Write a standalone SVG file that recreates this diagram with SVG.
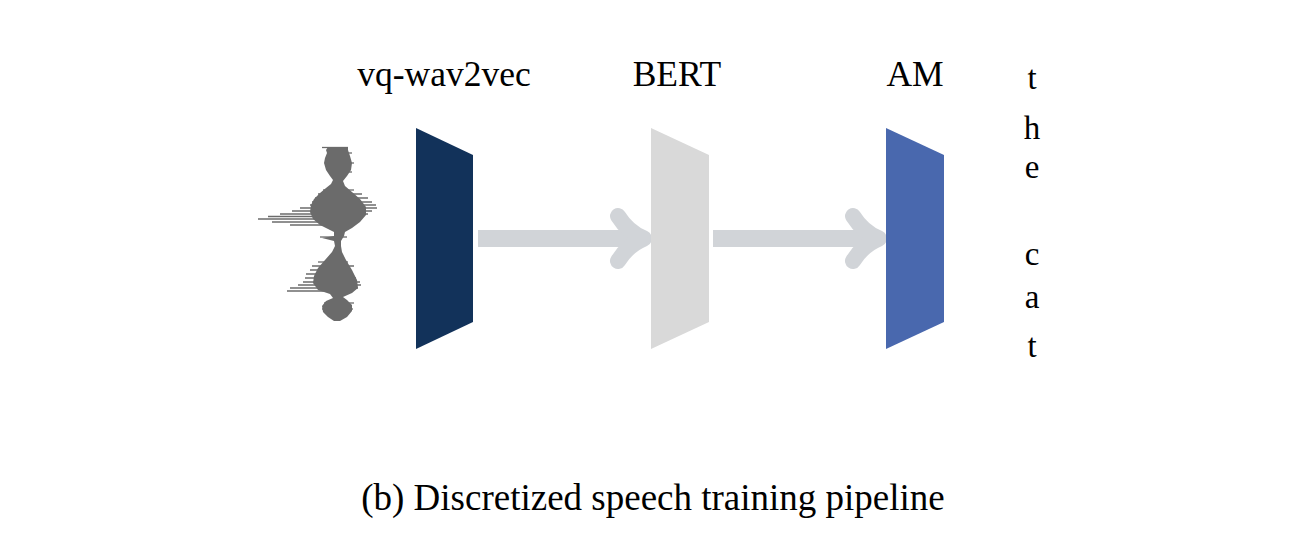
<svg xmlns="http://www.w3.org/2000/svg" width="1296" height="552" viewBox="0 0 1296 552">
<style>
.lbl{font-family:"Liberation Serif","Times New Roman",serif;font-size:35.5px;fill:#000;text-anchor:middle}
.ch{font-family:"Liberation Serif","Times New Roman",serif;font-size:33px;fill:#000;text-anchor:middle}
.cap{font-family:"Liberation Serif","Times New Roman",serif;font-size:37px;fill:#000;text-anchor:middle}
.arr{fill:none;stroke:#d1d4d8;stroke-width:17}
.head{fill:none;stroke:#d1d4d8;stroke-width:16;stroke-linecap:round;stroke-linejoin:round}
.wl{stroke:#6b6b6b;stroke-width:1.3}
</style>
<rect width="1296" height="552" fill="#fff"/>
<g id="waveform">
<path fill="#6b6b6b" d="M328,147 L326,150 L327,153 L325,158 L324,163 L326,170 L330,176 L333,180 L331,184 L326,188 L320,193 L314,199 L311,205 L310,212 L313,219 L320,225 L328,229 L334,232 L334,236 L322,238 L334,241 L335,246 L332,252 L325,260 L318,268 L314,276 L313,283 L318,290 L330,294 L333,298 L326,301 L322,306 L323,312 L328,317 L334,321 L340,321 L347,317 L352,311 L352,305 L347,300 L343,297 L352,293 L358,288 L357,280 L352,270 L346,260 L342,252 L341,246 L341,241 L344,236 L345,232 L352,228 L360,222 L366,215 L366,207 L360,199 L352,192 L345,186 L343,181 L347,176 L351,170 L352,163 L350,156 L348,150 L348,147 Z"/>
<g class="wl">
<line x1="322" y1="147.5" x2="348" y2="147.5"/>
<line x1="327" y1="153" x2="352" y2="153"/>
<line x1="325" y1="163" x2="354" y2="163"/>
<line x1="328" y1="172" x2="352" y2="172"/>
<line x1="323" y1="190" x2="354" y2="190"/>
<line x1="318" y1="194" x2="362" y2="194"/>
<line x1="315" y1="198" x2="368" y2="198"/>
<line x1="312" y1="202" x2="372" y2="202"/>
<line x1="310" y1="205" x2="376" y2="205"/>
<line x1="300" y1="208" x2="377" y2="208"/>
<line x1="292" y1="211" x2="372" y2="211"/>
<line x1="280" y1="214" x2="368" y2="214"/>
<line x1="268" y1="216.5" x2="358" y2="216.5"/>
<line x1="258" y1="219" x2="352" y2="219"/>
<line x1="272" y1="222" x2="350" y2="222"/>
<line x1="290" y1="225" x2="345" y2="225"/>
<line x1="320" y1="237" x2="347" y2="237"/>
<line x1="318" y1="262" x2="348" y2="262"/>
<line x1="312" y1="266" x2="354" y2="266"/>
<line x1="310" y1="270" x2="350" y2="270"/>
<line x1="306" y1="274" x2="352" y2="274"/>
<line x1="305" y1="278" x2="356" y2="278"/>
<line x1="303" y1="282" x2="360" y2="282"/>
<line x1="298" y1="285" x2="361" y2="285"/>
<line x1="290" y1="288" x2="358" y2="288"/>
<line x1="287" y1="291" x2="345" y2="291"/>
<line x1="324" y1="303" x2="354" y2="303"/>
<line x1="322" y1="309" x2="353" y2="309"/>
</g>
</g>
<g id="connectors">
<line class="arr" x1="478" y1="238.5" x2="643" y2="238.5"/>
<path class="head" d="M618,216 Q628,232 644,238.5 Q628,245 618,261"/>
<line class="arr" x1="713" y1="238.5" x2="878" y2="238.5"/>
<path class="head" d="M853,216 Q863,232 879,238.5 Q863,245 853,261"/>
</g>
<g id="vqwav2vec">
<polygon points="416,128 473,155 473,322 416,349" fill="#12325a"/>
<text class="lbl" x="444" y="86">vq-wav2vec</text>
</g>
<g id="bert">
<polygon points="651,128 709,155 709,322 651,349" fill="#d9d9d9"/>
<text class="lbl" x="677" y="86">BERT</text>
</g>
<g id="am">
<polygon points="886,128 944,155 944,322 886,349" fill="#4968ae"/>
<text class="lbl" x="915" y="86">AM</text>
</g>
<g id="output">
<text class="ch" x="1032" y="89">t</text>
<text class="ch" x="1032" y="139">h</text>
<text class="ch" x="1032" y="178">e</text>
<text class="ch" x="1032" y="265">c</text>
<text class="ch" x="1032" y="308">a</text>
<text class="ch" x="1032" y="357">t</text>
</g>
<text class="cap" x="653" y="510">(b) Discretized speech training pipeline</text>
</svg>
